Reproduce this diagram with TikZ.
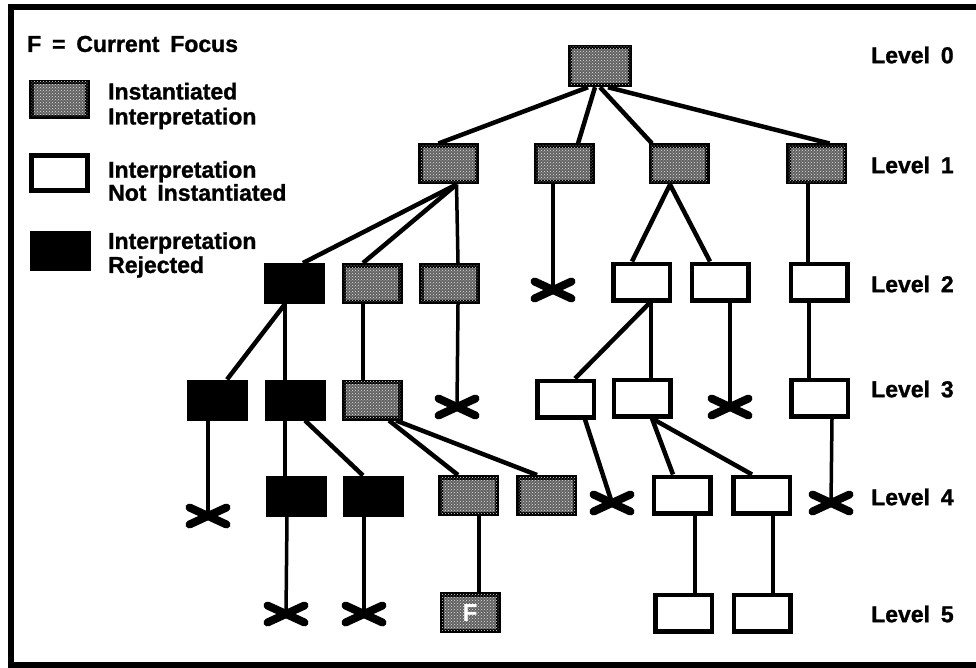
\documentclass[tikz,border=0pt]{standalone}
\usepackage{fontspec}
\setmainfont{Liberation Sans}[WordSpace=1.7, BoldFeatures={FakeBold=1.2}]
\usetikzlibrary{patterns}

% connector between two boxes, each end shifted sideways from the anchor
\newcommand\link[5][]{\draw[conn,#1] ([xshift=#3pt]#2.south) -- ([xshift=#5pt]#4.north);}
% connector from a box down to a rejection mark
\newcommand\cut[4][]{\draw[conn,#1] ([xshift=#3pt]#2.south) -- (#4);}
% rejection mark drawn at a named coordinate
\newcommand\xmark[1]{\draw[xstroke] ([shift={(-18.5,-8.5)}]#1) -- ([shift={(18.5,8.5)}]#1)
  ([shift={(-18.5,8.5)}]#1) -- ([shift={(18.5,-8.5)}]#1);}

\tikzset{
  box/.style={draw=black, line width=4.5pt, minimum width=56.5pt, minimum height=36.5pt,
    inner sep=0pt, anchor=center},
  inst/.style={box, fill=black!62,
    postaction={pattern=crosshatch dots, pattern color=white!90!black}},
  open/.style={box, fill=white},
  rej/.style={box, fill=black},
  conn/.style={line width=3.5pt},
  diag/.style={line width=4.5pt},
  xstroke/.style={line width=8pt, line cap=round},
  lbl/.style={font=\fontsize{23}{25}\selectfont\bfseries, inner sep=0pt},
  key/.style={lbl, anchor=west, align=left},
}

\begin{document}
\begin{tikzpicture}[x=1pt, y=-1pt]
\useasboundingbox (0,0) rectangle (976,668);
\fill[white] (0,0) rectangle (976,668);
% frame
\draw[line width=6pt] (990,7) -- (11,7) -- (11,665) -- (990,665);

% legend
\node[key] (focus) at (27,44) {F = Current Focus};
\node[inst, minimum width=56pt, minimum height=35pt] (kinst) at (59.5,99.5) {};
\node[key] (tinst) at (108,106) {Instantiated\\[0pt]Interpretation};
\node[open, minimum width=56pt, minimum height=35pt] (kopen) at (59.5,173) {};
\node[key] (topen) at (108,181) {Interpretation\\[-2pt]Not Instantiated};
\node[rej, minimum width=56pt, minimum height=35pt] (krej) at (60.5,251) {};
\node[key] (trej) at (108,255) {Interpretation\\[-1pt]Rejected};

% level captions
\node[lbl, anchor=west] (lv0) at (871,55) {Level 0};
\node[lbl, anchor=west] (lv1) at (871,165) {Level 1};
\node[lbl, anchor=west] (lv2) at (871,284) {Level 2};
\node[lbl, anchor=west] (lv3) at (871,389) {Level 3};
\node[lbl, anchor=west] (lv4) at (871,497) {Level 4};
\node[lbl, anchor=west] (lv5) at (871,614) {Level 5};

% level 0
\node[inst, minimum width=60pt, minimum height=38pt] (root) at (600,66) {};
% level 1
\node[inst] (a) at (448.5,164) {};
\node[inst] (b) at (564,164) {};
\node[inst] (c) at (679,164) {};
\node[inst] (d) at (816.5,164) {};
% level 2
\node[rej]  (k2)  at (294.5,283.5) {};
\node[inst] (s21) at (372,283.5) {};
\node[inst] (s22) at (449.5,283.5) {};
\node[open] (w21) at (641.5,282) {};
\node[open] (w22) at (720,282) {};
\node[open] (w23) at (819,282) {};
% level 3
\node[rej]  (k30) at (217,400) {};
\node[rej]  (k31) at (295.5,400) {};
\node[inst] (s3)  at (372,400) {};
\node[open] (w31) at (565.5,399) {};
\node[open] (w32) at (642,398) {};
\node[open] (w33) at (819.5,398) {};
% level 4
\node[rej]  (k41) at (296,496) {};
\node[rej]  (k42) at (373,496) {};
\node[inst] (s41) at (468.5,495.5) {};
\node[inst] (s42) at (546.5,495.5) {};
\node[open] (w41) at (682,495) {};
\node[open] (w42) at (761.5,495) {};
% level 5
\node[inst, text=white, font=\fontsize{24}{24}\selectfont\bfseries] (focusbox) at (470,612.5) {F};
\node[open] (w51) at (683.5,613) {};
\node[open] (w52) at (762,613) {};

% rejection points
\coordinate (x1) at (553,290);
\coordinate (x2) at (457,407);
\coordinate (x3) at (730,407);
\coordinate (x4) at (208,516);
\coordinate (x5) at (612,503);
\coordinate (x6) at (831,503);
\coordinate (x7) at (286,614);
\coordinate (x8) at (364,614);

% level 0 -> 1
\link[diag]{root}{-12}{a}{-10}
\link[diag]{root}{-5}{b}{14}
\link[diag]{root}{0}{c}{-27}
\link[diag]{root}{8}{d}{13}
% level 1 -> 2
\link[diag]{a}{8}{k2}{8.5}
\link[diag]{a}{8}{s21}{-9}
\link{a}{8}{s22}{8.5}
\cut{b}{-11}{x1}
\link[diag]{c}{-9}{w21}{-9.5}
\link[diag]{c}{-9}{w22}{-10}
\link{d}{-8.5}{w23}{-11}
% level 2 -> 3
\link[diag]{k2}{-9.5}{k30}{10}
\link{k2}{-9.5}{k31}{-10.5}
\link{s21}{-9}{s3}{-9}
\cut{s22}{8.5}{x2}
\link[diag]{w21}{8.5}{w31}{9.5}
\link{w21}{9.5}{w32}{9}
\cut{w22}{10}{x3}
\link{w23}{-10}{w33}{-10.5}
% level 3 -> 4
\cut{k30}{-9}{x4}
\link{k31}{-10.5}{k41}{-11}
\link[diag]{k31}{9.5}{k42}{-10}
\link[diag]{s3}{17}{s41}{-10.5}
\link[diag]{s3}{24}{s42}{-9.5}
\cut[diag]{w31}{19.5}{x5}
\link[diag]{w32}{10}{w41}{-9}
\link[diag]{w32}{10}{w42}{-9.5}
\cut{w33}{12.5}{x6}
% level 4 -> 5
\cut{k41}{-9}{x7}
\cut{k42}{-9}{x8}
\link{s41}{10.5}{focusbox}{9}
\link{w41}{13}{w51}{11.5}
\link{w42}{11.5}{w52}{11}

% rejection marks
\xmark{x1}\xmark{x2}\xmark{x3}\xmark{x4}
\xmark{x5}\xmark{x6}\xmark{x7}\xmark{x8}
\end{tikzpicture}
\end{document}
